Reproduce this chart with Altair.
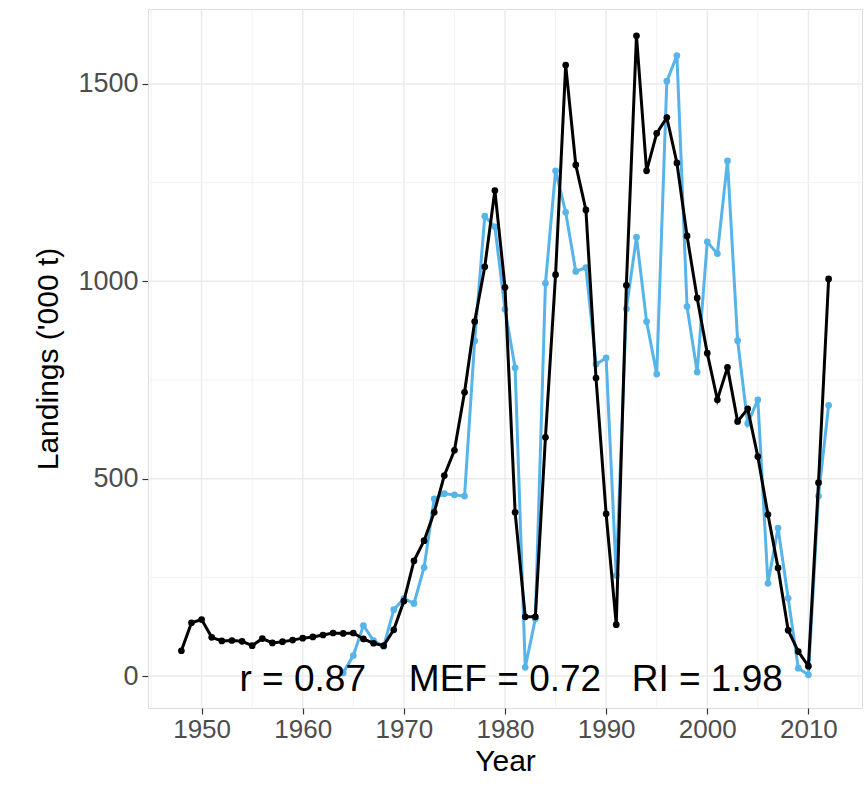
import altair as alt
import pandas as pd

# Observed (black) landings, 1948-2012
obs_years = list(range(1948, 2013))
obs_values = [64, 135, 143, 98, 89, 90, 88, 77, 95, 84, 87, 91, 96, 99, 104, 109,
              108, 109, 94, 83, 77, 117, 190, 292, 343, 415, 508, 572, 719, 898,
              1037, 1230, 985, 415, 150, 150, 605, 1017, 1548, 1295, 1181, 755,
              411, 130, 990, 1622, 1280, 1375, 1415, 1300, 1115, 958, 818, 700,
              782, 645, 677, 556, 409, 274, 116, 62, 25, 490, 1006]

# Model (blue) landings, 1964-2012
mod_years = list(range(1964, 2013))
mod_values = [8, 52, 128, 90, 75, 168, 196, 184, 275, 449, 462, 459, 456, 849,
              1165, 1138, 929, 781, 22, 145, 995, 1280, 1175, 1025, 1035, 790,
              806, 255, 930, 1112, 898, 765, 1507, 1572, 936, 770, 1100, 1070,
              1305, 850, 640, 700, 235, 375, 197, 20, 3, 456, 686]

x_major = [1950, 1960, 1970, 1980, 1990, 2000, 2010]
x_minor = [1945, 1955, 1965, 1975, 1985, 1995, 2005, 2015]
y_major = [0, 500, 1000, 1500]
y_minor = [250, 750, 1250]

ann_x = [1960, 1980, 2000]
ann_y = [0, 0, 0]
ann_text = ["r = 0.87", "MEF = 0.72", "RI = 1.98"]

obs = pd.DataFrame({"Year": obs_years, "Landings": obs_values})
mod = pd.DataFrame({"Year": mod_years, "Landings": mod_values})
ann = pd.DataFrame({"Year": ann_x, "Landings": ann_y, "label": ann_text})

XD = [1944.7, 2015.3]
YD = [-81, 1690]

xs = alt.Scale(domain=XD, nice=False, zero=False)
ys = alt.Scale(domain=YD, nice=False, zero=False)

x_axis = alt.Axis(title="Year", values=x_major, grid=False, format="d",
                  labelFontSize=26, labelColor="#4D4D4D", labelFont="Liberation Sans",
                  titleFontSize=30, titleFont="Liberation Sans", titleFontWeight="normal",
                  titleColor="#000000", tickColor="#333333", tickSize=6, tickWidth=1.2,
                  domain=False, labelPadding=2, titlePadding=4)
y_axis = alt.Axis(title="Landings ('000 t)", values=y_major, grid=False, format="d",
                  labelFontSize=27, labelColor="#4D4D4D", labelFont="Liberation Sans",
                  titleFontSize=30, titleFont="Liberation Sans", titleFontWeight="normal",
                  titleColor="#000000", tickColor="#333333", tickSize=6, tickWidth=1.2,
                  domain=False, labelPadding=4, titlePadding=14)

X = lambda f: alt.X(f, scale=xs, axis=x_axis)
Y = lambda f: alt.Y(f, scale=ys, axis=y_axis)

vminor = alt.Chart(pd.DataFrame({"Year": x_minor})).mark_rule(
    color="#F2F2F2", strokeWidth=1).encode(x=X("Year:Q"))
vmajor = alt.Chart(pd.DataFrame({"Year": x_major})).mark_rule(
    color="#EBEBEB", strokeWidth=1.5).encode(x=X("Year:Q"))
hminor = alt.Chart(pd.DataFrame({"Landings": y_minor})).mark_rule(
    color="#F2F2F2", strokeWidth=1).encode(y=Y("Landings:Q"))
hmajor = alt.Chart(pd.DataFrame({"Landings": y_major})).mark_rule(
    color="#EBEBEB", strokeWidth=1.5).encode(y=Y("Landings:Q"))

def series(df, color):
    base = alt.Chart(df).encode(x=X("Year:Q"), y=Y("Landings:Q"))
    return base.mark_line(color=color, strokeWidth=3) + base.mark_circle(
        color=color, size=45, opacity=1)

blue = series(mod, "#56B4E9")
black = series(obs, "#000000")

text = alt.Chart(ann).mark_text(fontSize=37, font="Liberation Sans", color="#000000",
                                baseline="middle", align="center", dy=4).encode(
    x=X("Year:Q"), y=Y("Landings:Q"), text="label:N")

chart = alt.layer(vminor, vmajor, hminor, hmajor, blue, black, text).properties(
    width=714, height=699,
    autosize=alt.AutoSizeParams(type="none"),
    padding={"left": 148, "top": 9, "right": 4, "bottom": 80},
).configure_view(stroke="#9A9A9A", strokeWidth=1.5).configure(background="white")

chart.save("out.html", embed_options={"renderer": "svg", "actions": False})
